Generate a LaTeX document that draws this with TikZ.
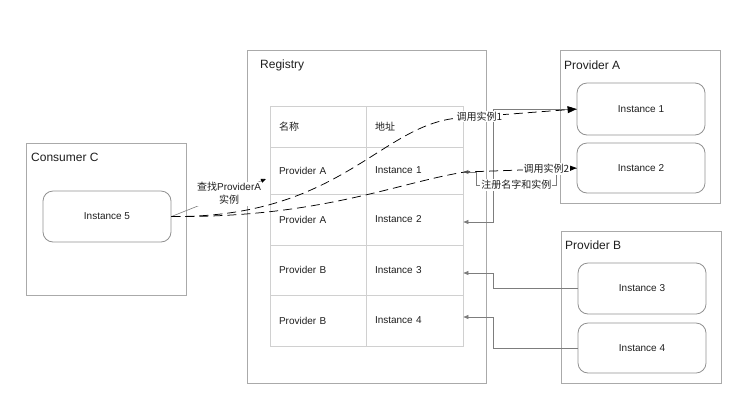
\documentclass[tikz,border=0pt]{standalone}
\usepackage{fontspec}
\setmainfont{Liberation Sans}
\newfontfamily\cjk{Noto Sans CJK SC}
\usetikzlibrary{arrows.meta}
\definecolor{framegray}{RGB}{170,170,170}
\definecolor{cellgray}{RGB}{208,208,208}
\definecolor{linkgray}{RGB}{125,125,125}
\definecolor{inkgray}{RGB}{30,30,30}
\newcommand{\zh}[1]{{\cjk #1}}
\begin{document}
\begin{tikzpicture}[x=1pt,y=-1pt,
    every node/.style={font=\fontsize{10}{13}\selectfont, text=inkgray},
    group/.style={draw=framegray, line width=0.8pt, minimum width=160pt, minimum height=152pt, inner sep=0pt},
    title/.style={anchor=west, inner sep=0pt, font=\fontsize{12}{14}\selectfont},
    inst/.style={draw=framegray!85!black, rounded corners=10pt, line width=0.8pt, minimum width=128pt, minimum height=51pt},
    cell/.style={draw=cellgray, line width=0.8pt, inner xsep=9pt, inner ysep=0pt, text width=#1, align=left},
    lbl/.style={fill=white, inner sep=1pt},
    reg/.style={draw=linkgray, line width=0.6pt, -{Triangle[length=5pt,width=4pt]}},
    call/.style={draw=black, line width=0.75pt, dash pattern=on 9pt off 5pt, -{Triangle[length=9pt,width=7pt]}}]
        \useasboundingbox (0,0) rectangle (746,408);

        % outer boxes
        \node[group] at (106, 219) (consumer) {};
        \node[group, minimum width=239pt, minimum height=333pt] at (366.5, 216.5) (registry) {};
        \node[group, minimum height=153pt] at (640, 126.5) (provA) {};
        \node[group] at (641, 307) (provB) {};
        \node[title] at (31, 157) (consumertitle) {Consumer C};
        \node[title] at (260, 65) (registrytitle) {Registry};
        \node[title] at (564, 65) (provAtitle) {Provider A};
        \node[title] at (565, 245) (provBtitle) {Provider B};

        % instances
        \node[inst] at (107, 216.5) (inst5) {Instance 5};
        \node[inst, minimum height=52pt] at (641, 109) (inst1) {Instance 1};
        \node[inst, minimum height=50pt] at (641, 168) (inst2) {Instance 2};
        \node[inst] at (642, 288.5) (inst3) {Instance 3};
        \node[inst, minimum height=50pt] at (642, 348) (inst4) {Instance 4};

        % registry table
        \node[cell=78pt, minimum height=41pt] at (318, 126.5) (nm0) {\zh{名称}};
        \node[cell=79pt, minimum height=41pt] at (414.5, 126.5) (ad0) {\zh{地址}};
        \node[cell=78pt, minimum height=47pt] at (318, 170.5) (nm1) {Provider A};
        \node[cell=79pt, minimum height=47pt] at (414.5, 170.5) (ad1) {Instance 1};
        \node[cell=78pt, minimum height=51pt] at (318, 219.5) (nm2) {Provider A};
        \node[cell=79pt, minimum height=51pt] at (414.5, 219.5) (ad2) {Instance 2};
        \node[cell=78pt, minimum height=50pt] at (318, 270) (nm3) {Provider B};
        \node[cell=79pt, minimum height=50pt] at (414.5, 270) (ad3) {Instance 3};
        \node[cell=78pt, minimum height=51pt] at (318, 320.5) (nm4) {Provider B};
        \node[cell=79pt, minimum height=51pt] at (414.5, 320.5) (ad4) {Instance 4};

        \coordinate (lookup) at (266, 179);

        % registration
        \path[reg] (inst1.west) -- ++(-83,0) |- ([yshift=-2.5pt]ad2.east);
        \path[reg] (inst2.west) -- ++(-20,0) |- node[lbl, pos=0.75] {\zh{注册名字和实例}} (476,185) |- ([yshift=-1.5pt]ad1.east);
        \path[reg] (inst3.west) -- ++(-84,0) |- ([yshift=-3pt]ad3.east);
        \path[reg] (inst4.west) -- ++(-84,0) |- ([yshift=3.5pt]ad4.east);

        % lookup and calls
        \path[draw=linkgray, line width=0.6pt, -{Triangle[length=5pt,width=4pt,color=black]}]
            (inst5.east) -- node[lbl, align=center, pos=0.61] {\zh{查找}ProviderA\\\zh{实例}} (lookup);
        \path[call] (inst5.east) .. controls (340,218) and (380,125) .. (458,118)
            -- node[lbl, pos=0.18] {\zh{调用实例1}} (inst1.west);
        \path[call] (inst5.east) .. controls (320,218) and (400,182) .. (465,172)
            -- node[lbl, pos=0.73] {\zh{调用实例2}} (inst2.west);
\end{tikzpicture}
\end{document}
